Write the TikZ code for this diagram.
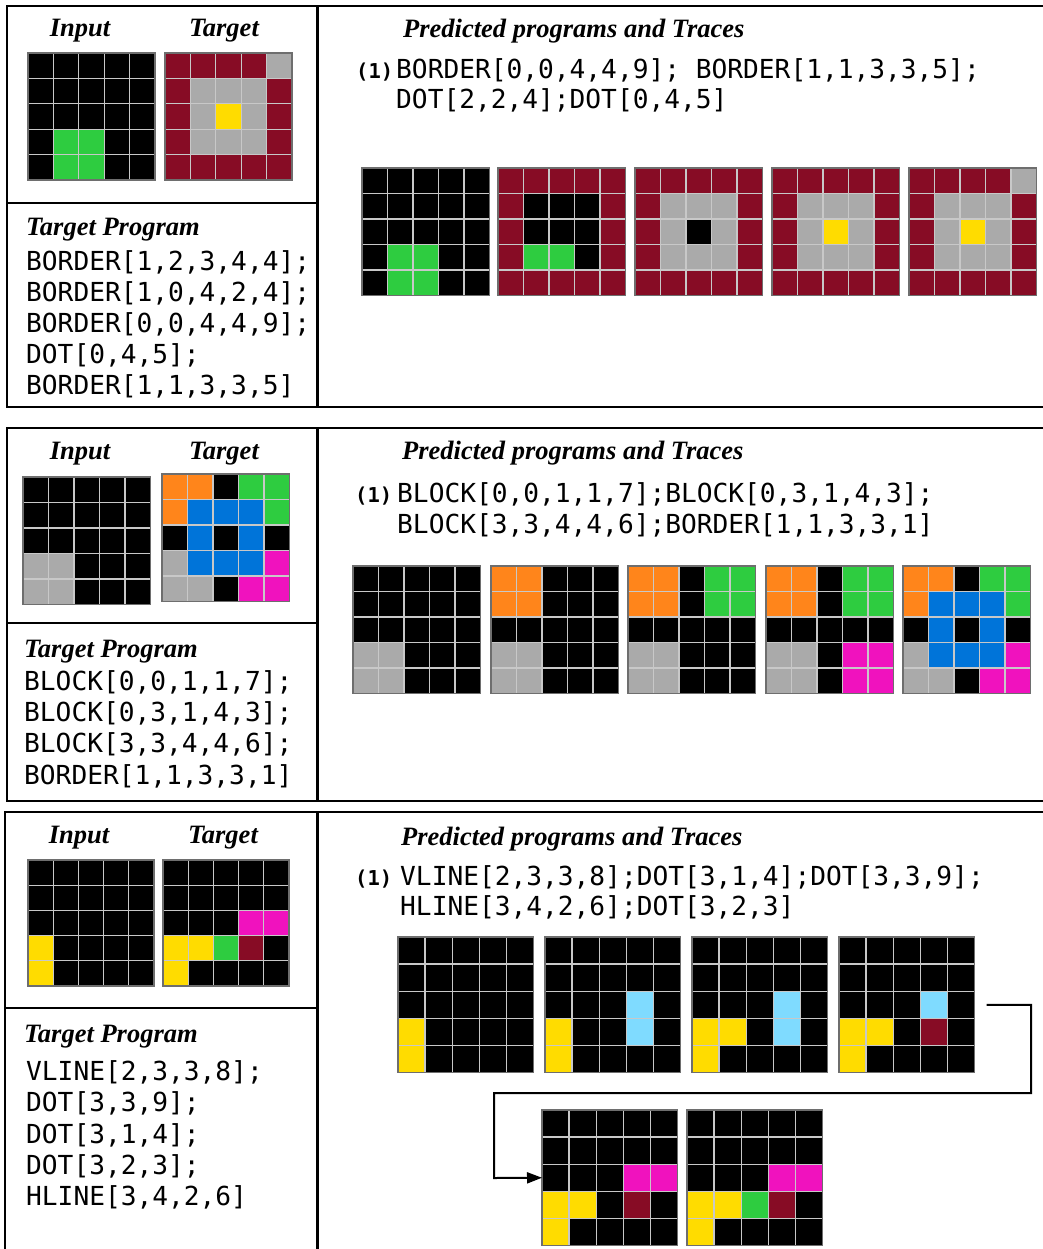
\documentclass[tikz,border=0pt]{standalone}
\usepackage{fontspec}
\setmainfont{Liberation Serif}
\newfontfamily\codefont{DejaVu Sans Mono}
\usetikzlibrary{arrows.meta}

\definecolor{arck}{HTML}{000000}
\definecolor{arcm}{HTML}{870C25}
\definecolor{arca}{HTML}{AAAAAA}
\definecolor{arcy}{HTML}{FFDC00}
\definecolor{arcg}{HTML}{2ECC40}
\definecolor{arco}{HTML}{FF851B}
\definecolor{arcb}{HTML}{0074D9}
\definecolor{arcp}{HTML}{F012BE}
\definecolor{arcl}{HTML}{7FDBFF}
\definecolor{gridln}{HTML}{C8C8C8}
\definecolor{gridbd}{HTML}{6E6E6E}

\newcommand\cellrow[5]{%
  \foreach \cc [count=\jj from 0] in {#1,#2,#3,#4,#5}{%
    \fill[arc\cc] (\gx+\jj*\gs,\gy+\ii*\gs) rectangle ++(\gs,\gs);}}
\newcommand\arcgrid[5]{%
  \def\gx{#2}\def\gy{#3}\def\gs{#4}%
  \foreach \rw [count=\ii from 0] in {#5}{\expandafter\cellrow\rw}%
  \foreach \k in {1,...,4}{%
    \draw[gridline] (\gx+\k*\gs,\gy) -- ++(0,5*\gs);
    \draw[gridline] (\gx,\gy+\k*\gs) -- ++(5*\gs,0);}%
  \node[gridframe, minimum width={5*\gs*1pt}, minimum height={5*\gs*1pt}] (#1) at (\gx,\gy) {};%
}

\tikzset{
  gridline/.style={draw=gridln, line width=1.3pt},
  gridframe/.style={draw=gridbd, line width=1.4pt, inner sep=0pt, outer sep=0pt, anchor=north west},
  ttl/.style={font=\fontsize{26.5}{31}\selectfont\bfseries\itshape, inner sep=0pt},
  codeln/.style={font=\codefont\fontsize{26.2}{31}\selectfont, inner sep=0pt, anchor=base west},
  numln/.style={font=\codefont\fontsize{20.5}{24}\selectfont\bfseries, inner sep=0pt, anchor=base west},
  panel/.style={draw=black, line width=2.4pt},
  flow/.style={draw=black, line width=2pt, -{Triangle[length=15pt,width=11pt]}}
}

\begin{document}
\begin{tikzpicture}[x=1pt,y=-1pt]
\useasboundingbox (0,0) rectangle (1043,1249);
\fill[white] (0,0) rectangle (1043,1249);
\clip (0,0) rectangle (1043,1249);

% ---------------- panel boxes
\draw[panel] (7,6) rectangle (317.5,407);
\draw[panel] (7,203) -- (317.5,203);
\draw[panel] (317.5,6) rectangle (1060,407);

\draw[panel] (7,428) rectangle (317.5,801);
\draw[panel] (7,623) -- (317.5,623);
\draw[panel] (317.5,428) rectangle (1060,801);

\draw[panel] (5,812) rectangle (317.5,1270);
\draw[panel] (5,1008) -- (317.5,1008);
\draw[panel] (317.5,812) rectangle (1060,1270);

% ---------------- panel 1
\node[ttl, anchor=base] (in1) at (80,37) {Input};
\node[ttl, anchor=base] (tg1) at (224,37) {Target};
\arcgrid{g1in}{28}{53}{25.4}{kkkkk,kkkkk,kkkkk,kggkk,kggkk}
\arcgrid{g1tg}{165}{53}{25.4}{mmmma,maaam,mayam,maaam,mmmmm}
\node[ttl, anchor=base west] (tp1) at (26,236) {Target Program};
\node[codeln] (c1a) at (26,270) {BORDER[1,2,3,4,4];};
\node[codeln] (c1b) at (26,301) {BORDER[1,0,4,2,4];};
\node[codeln] (c1c) at (26,332) {BORDER[0,0,4,4,9];};
\node[codeln] (c1d) at (26,363) {DOT[0,4,5];};
\node[codeln] (c1e) at (26,394) {BORDER[1,1,3,3,5]};
\node[ttl, anchor=base west] (pp1) at (403,38) {Predicted programs and Traces};
\node[numln] (n1) at (356,79) {(1)};
\node[codeln] (p1a) at (396,79) {BORDER[0,0,4,4,9]; BORDER[1,1,3,3,5];};
\node[codeln] (p1b) at (396,109) {DOT[2,2,4];DOT[0,4,5]};
\arcgrid{g1t1}{362}{168}{25.5}{kkkkk,kkkkk,kkkkk,kggkk,kggkk}
\arcgrid{g1t2}{498}{168}{25.5}{mmmmm,mkkkm,mkkkm,mggkm,mmmmm}
\arcgrid{g1t3}{635}{168}{25.5}{mmmmm,maaam,makam,maaam,mmmmm}
\arcgrid{g1t4}{772}{168}{25.5}{mmmmm,maaam,mayam,maaam,mmmmm}
\arcgrid{g1t5}{909}{168}{25.5}{mmmma,maaam,mayam,maaam,mmmmm}

% ---------------- panel 2
\node[ttl, anchor=base] (in2) at (80,459) {Input};
\node[ttl, anchor=base] (tg2) at (224,459) {Target};
\arcgrid{g2in}{23}{477}{25.5}{kkkkk,kkkkk,kkkkk,aakkk,aakkk}
\arcgrid{g2tg}{162}{474}{25.5}{ookgg,obbbg,kbkbk,abbbp,aakpp}
\node[ttl, anchor=base west] (tp2) at (24,657) {Target Program};
\node[codeln] (c2a) at (24,690) {BLOCK[0,0,1,1,7];};
\node[codeln] (c2b) at (24,721) {BLOCK[0,3,1,4,3];};
\node[codeln] (c2c) at (24,752) {BLOCK[3,3,4,4,6];};
\node[codeln] (c2d) at (24,784) {BORDER[1,1,3,3,1]};
\node[ttl, anchor=base west] (pp2) at (402,459) {Predicted programs and Traces};
\node[numln] (n2) at (355,502) {(1)};
\node[codeln] (p2a) at (397,502) {BLOCK[0,0,1,1,7];BLOCK[0,3,1,4,3];};
\node[codeln] (p2b) at (397,533) {BLOCK[3,3,4,4,6];BORDER[1,1,3,3,1]};
\arcgrid{g2t1}{353}{566}{25.5}{kkkkk,kkkkk,kkkkk,aakkk,aakkk}
\arcgrid{g2t2}{491}{566}{25.5}{ookkk,ookkk,kkkkk,aakkk,aakkk}
\arcgrid{g2t3}{628}{566}{25.5}{ookgg,ookgg,kkkkk,aakkk,aakkk}
\arcgrid{g2t4}{766}{566}{25.5}{ookgg,ookgg,kkkkk,aakpp,aakpp}
\arcgrid{g2t5}{903}{566}{25.5}{ookgg,obbbg,kbkbk,abbbp,aakpp}

% ---------------- panel 3
\node[ttl, anchor=base] (in3) at (79,843) {Input};
\node[ttl, anchor=base] (tg3) at (223,843) {Target};
\arcgrid{g3in}{28}{860}{25.2}{kkkkk,kkkkk,kkkkk,ykkkk,ykkkk}
\arcgrid{g3tg}{163}{860}{25.2}{kkkkk,kkkkk,kkkpp,yygmk,ykkkk}
\node[ttl, anchor=base west] (tp3) at (24,1042) {Target Program};
\node[codeln] (c3a) at (26,1080) {VLINE[2,3,3,8];};
\node[codeln] (c3b) at (26,1111) {DOT[3,3,9];};
\node[codeln] (c3c) at (26,1143) {DOT[3,1,4];};
\node[codeln] (c3d) at (26,1174) {DOT[3,2,3];};
\node[codeln] (c3e) at (26,1205) {HLINE[3,4,2,6]};
\node[ttl, anchor=base west] (pp3) at (401,845) {Predicted programs and Traces};
\node[numln] (n3) at (355,885) {(1)};
\node[codeln] (p3a) at (400,885) {VLINE[2,3,3,8];DOT[3,1,4];DOT[3,3,9];};
\node[codeln] (p3b) at (400,915) {HLINE[3,4,2,6];DOT[3,2,3]};
\arcgrid{g3t1}{398}{937}{27.1}{kkkkk,kkkkk,kkkkk,ykkkk,ykkkk}
\arcgrid{g3t2}{545}{937}{27.1}{kkkkk,kkkkk,kkklk,ykklk,ykkkk}
\arcgrid{g3t3}{692}{937}{27.1}{kkkkk,kkkkk,kkklk,yyklk,ykkkk}
\arcgrid{g3t4}{839}{937}{27.1}{kkkkk,kkkkk,kkklk,yykmk,ykkkk}
\arcgrid{g3t5}{542}{1110}{27.1}{kkkkk,kkkkk,kkkpp,yykmk,ykkkk}
\arcgrid{g3t6}{687}{1110}{27.1}{kkkkk,kkkkk,kkkpp,yygmk,ykkkk}

\coordinate (fs) at ([xshift=12pt]g3t4.east);
\draw[flow] (fs) -| (1031,1093) -| (494,1178) -- (g3t5.west);
\end{tikzpicture}
\end{document}
